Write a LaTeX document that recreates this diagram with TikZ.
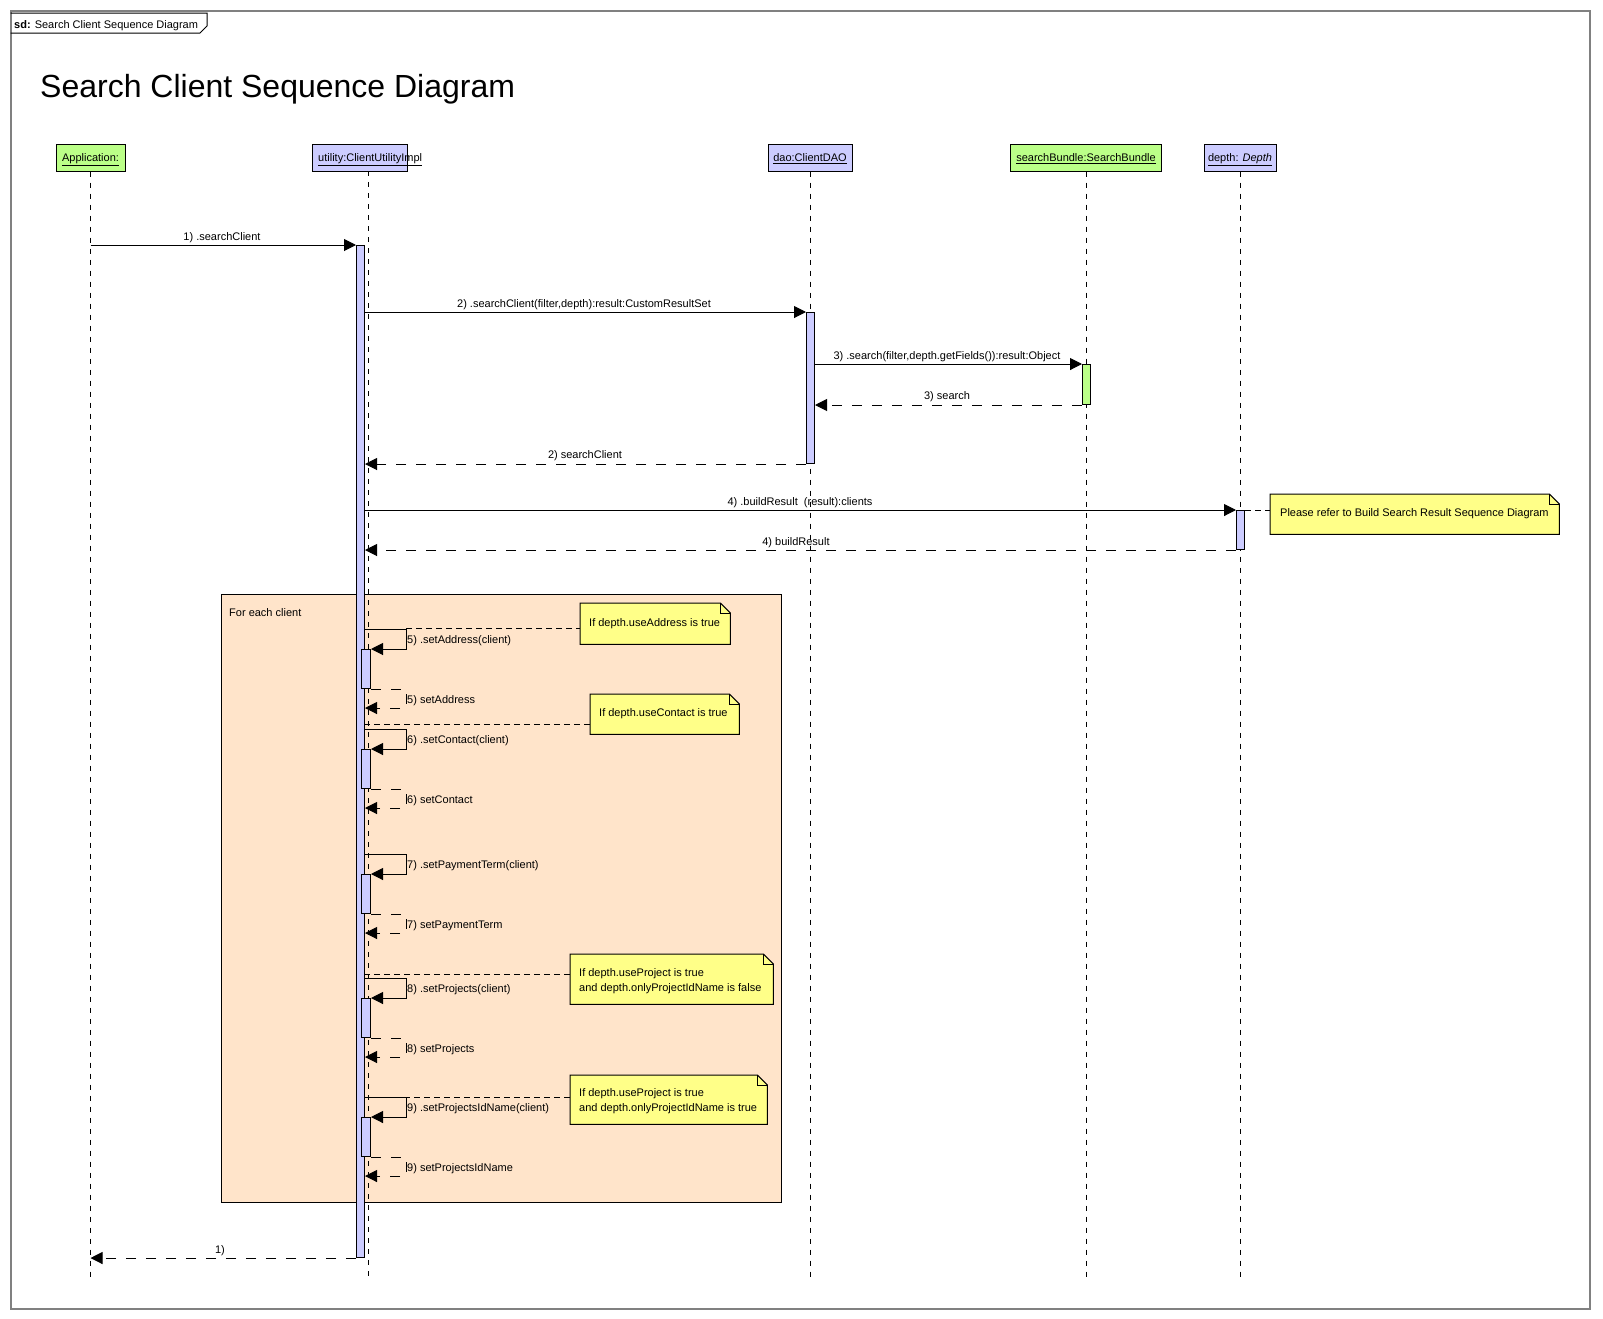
\documentclass[tikz,border=0pt]{standalone}
\usepackage{fontspec}
\setmainfont{Liberation Sans}
\usetikzlibrary{arrows.meta,calc}
\definecolor{lav}{RGB}{204,204,255}
\definecolor{grn}{RGB}{187,255,136}
\definecolor{yel}{RGB}{255,255,136}
\definecolor{peach}{RGB}{255,228,202}
\definecolor{frm}{RGB}{128,128,128}
\newcommand\drawnote[1]{%
  \draw[fill=yel, line width=1pt] (#1.north west) -- ([xshift=-10pt]#1.north east) -- ([yshift=-10pt]#1.north east) -- (#1.south east) -- (#1.south west) -- cycle;
  \draw[line width=0.5pt] ([xshift=-10pt]#1.north east) -- ([xshift=-10pt,yshift=-10pt]#1.north east) -- ([yshift=-10pt]#1.north east);}
\newcommand\selfcall[4]{%
  \node[bar, minimum width=9pt, minimum height=39pt] (nb#1) at (361,{#2+20}) {};
  \coordinate (c#1) at (406,#2);
  \coordinate (r#1) at (365,{#2+79});
  \draw[msg] (ubar.east |- c#1) -- (c#1) -- (c#1 |- nb#1.north east) -- (nb#1.north east);
  \draw[ret] (nb#1.south east) -- (nb#1.south east -| c#1) -- (c#1 |- r#1) -- (r#1);
  \node[lft] (lc#1) at (407,{#2+14}) {#3};
  \node[lft] (lr#1) at (407,{#2+74}) {#4};}
\begin{document}
\begin{tikzpicture}[x=1pt,y=-1pt,
  txt/.style={font=\fontsize{11}{13}\selectfont, inner sep=0pt},
  lbl/.style={txt, anchor=base},
  lft/.style={txt, anchor=base west},
  head/.style={draw, line width=1pt, minimum height=27pt, inner sep=0pt},
  bar/.style={draw, fill=lav, line width=1pt, inner sep=0pt, minimum width=8pt, anchor=north west},
  life/.style={line width=1pt, dash pattern=on 5pt off 6pt},
  msg/.style={line width=1pt, -{Triangle[length=12pt,width=12pt]}},
  ret/.style={msg, dash pattern=on 10pt off 10pt},
  lnk/.style={line width=1pt, dash pattern=on 6pt off 4pt},
  notebg/.style={inner sep=0pt, anchor=north west},
]
\useasboundingbox (0,0) rectangle (1603,1318);
\fill[white] (0,0) rectangle (1603,1318);
% outer frame and tab
\node[draw=frm, line width=1.5pt, minimum width=1579pt, minimum height=1298pt, anchor=north west, inner sep=0pt] (frame) at (10,10) {};
\draw[line width=1pt] (10.5,13) -- (207,13) -- (207,26) -- (200,33) -- (10.5,33);
\node[lft] (sd) at (14,28) {\textbf{sd:} Search Client Sequence Diagram};
\node[anchor=base west, inner sep=0pt, font=\fontsize{32}{38}\selectfont] (title) at (40,97) {Search Client Sequence Diagram};
% combined fragment
\node[draw, fill=peach, line width=1pt, anchor=north west, minimum width=560pt, minimum height=608pt, inner sep=0pt] (frag) at (221,594) {};
\node[lft] (fraglbl) at (229,616) {For each client};
% heads
\node[head, fill=grn, minimum width=69pt] (app) at (90.5,157.5) {};
\node[head, fill=lav, minimum width=95pt] (util) at (359.5,157.5) {};
\node[head, fill=lav, minimum width=84pt] (dao) at (810,157.5) {};
\node[head, fill=grn, minimum width=151pt] (sb) at (1086,157.5) {};
\node[head, fill=lav, minimum width=72pt] (dep) at (1240,157.5) {};
% lifelines
\coordinate (utop) at (368,171);
\coordinate (uend) at (368,1278);
\coordinate (bottom) at (0,1278);
\draw[life] (app.south) -- (app.south |- bottom);
\draw[life] (utop) -- (uend);
\draw[life] (dao.south) -- (dao.south |- bottom);
\draw[life] (sb.south) -- (sb.south |- bottom);
\draw[life] (dep.south) -- (dep.south |- bottom);
% head labels
\node[lbl] (appt) at (90.5,161.5) {\underline{Application:}};
\node[lft] (utilt) at (318,161.5) {\underline{utility:ClientUtilityImpl}};
\node[lbl] (daot) at (810,161.5) {\underline{dao:ClientDAO}};
\node[lbl] (sbt) at (1086,161.5) {\underline{searchBundle:SearchBundle}};
\node[lbl] (dept) at (1240,161.5) {\underline{depth: \textit{Depth}}};
% notes geometry
\node[notebg, minimum width=150pt, minimum height=41pt] (nt1) at (580,603) {};
\node[notebg, minimum width=149pt, minimum height=40pt] (nt2) at (590,694) {};
\node[notebg, minimum width=203pt, minimum height=50pt] (nt3) at (570,954) {};
\node[notebg, minimum width=197pt, minimum height=49pt] (nt4) at (570,1075) {};
\node[notebg, minimum width=289pt, minimum height=40pt] (nt5) at (1270,494) {};
% activation bars
\node[bar, minimum height=1012pt] (ubar) at (356,245) {};
\node[bar, minimum height=151pt] (dbar) at (806,312) {};
\node[bar, fill=grn, minimum height=40pt] (sbar) at (1082,364) {};
\node[bar, minimum height=39pt] (pbar) at (1236,510) {};
% note links
\coordinate (k1) at (406,628);
\coordinate (k2) at (364,724);
\coordinate (k3) at (364,974);
\coordinate (k4) at (364,1097);
\draw[lnk] (k1) -- (k1 -| nt1.west);
\draw[lnk] (k2) -- (k2 -| nt2.west);
\draw[lnk] (k3) -- (k3 -| nt3.west);
\draw[lnk] (k4) -- (k4 -| nt4.west);
\draw[lnk] (pbar.north east) -- (pbar.north east -| nt5.west);
% messages
\draw[msg] (app.south |- ubar.north west) -- (ubar.north west);
\node[lbl] (m1) at (222,240) {1) .searchClient};
\draw[msg] (ubar.east |- dbar.north) -- (dbar.north west);
\node[lbl] (m2) at (584,307) {2) .searchClient(filter,depth):result:CustomResultSet};
\draw[msg] (dbar.east |- sbar.north) -- (sbar.north west);
\node[lbl] (m3) at (947,359) {3) .search(filter,depth.getFields()):result:Object};
\draw[ret] (sbar.south west) -- (sbar.south west -| dbar.east);
\node[lbl] (r3) at (947,399) {3) search};
\draw[ret] (dbar.south west) -- (dbar.south west -| ubar.east);
\node[lbl] (r2) at (585,458) {2) searchClient};
\draw[msg] (ubar.east |- pbar.north) -- (pbar.north west);
\node[lbl] (m4) at (800,505) {4) .buildResult~~(result):clients};
\draw[ret] (pbar.south west) -- (pbar.south west -| ubar.east);
\node[lbl] (r4) at (796,545) {4) buildResult};
\draw[ret] (ubar.south west) -- (ubar.south west -| app.south);
\node[lbl] (r1) at (220,1253) {1)};
% self calls
\selfcall{5}{629}{5) .setAddress(client)}{5) setAddress}
\selfcall{6}{729}{6) .setContact(client)}{6) setContact}
\selfcall{7}{854}{7) .setPaymentTerm(client)}{7) setPaymentTerm}
\selfcall{8}{978}{8) .setProjects(client)}{8) setProjects}
\selfcall{9}{1097}{9) .setProjectsIdName(client)}{9) setProjectsIdName}
% notes
\drawnote{nt1}
\drawnote{nt2}
\drawnote{nt3}
\drawnote{nt4}
\drawnote{nt5}
\node[lft] (t1) at (589,626) {If depth.useAddress is true};
\node[lft] (t2) at (599,716) {If depth.useContact is true};
\node[lft] (t3a) at (579,976) {If depth.useProject is true};
\node[lft] (t3b) at (579,991) {and depth.onlyProjectIdName is false};
\node[lft] (t4a) at (579,1096) {If depth.useProject is true};
\node[lft] (t4b) at (579,1111) {and depth.onlyProjectIdName is true};
\node[lft] (t5) at (1280,516) {Please refer to Build Search Result Sequence Diagram};
\end{tikzpicture}
\end{document}
